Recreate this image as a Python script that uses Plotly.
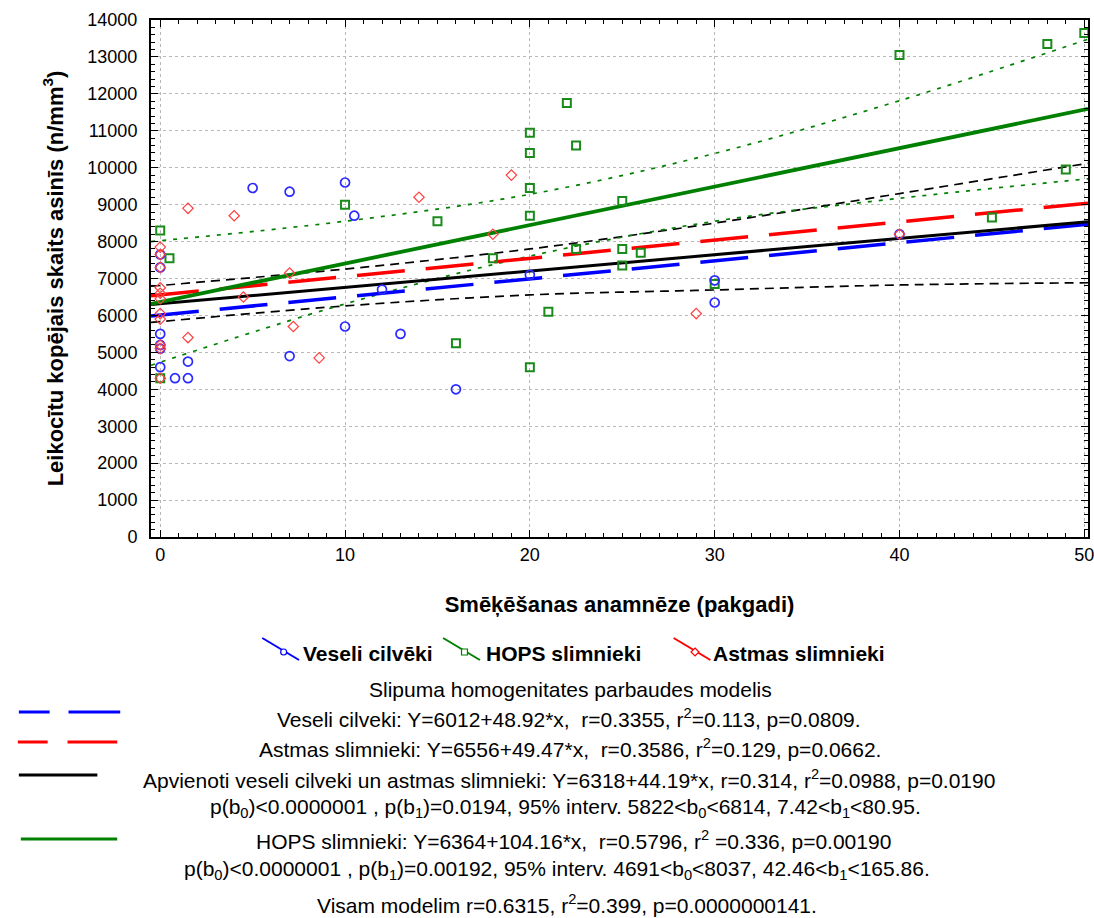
import plotly.graph_objects as go

# ---------------- data ----------------
healthy_x = [0, 0, 0, 0, 0, 0, 0.8, 1.5, 1.5, 5, 7, 7, 10, 10.5, 10, 12, 13, 16, 20, 30, 30, 40]
healthy_y = [7650, 7300, 5500, 5200, 5100, 4600, 4300, 4300, 4750, 9450, 9350, 4900, 9600, 8700, 5700, 6700, 5500, 4000, 7100, 6950, 6350, 8200]

asthma_x = [0, 0, 0, 0, 0, 0, 0, 0, 0, 0, 0, 1.5, 1.5, 4, 4.5, 7, 7.2, 8.6, 14, 18, 19, 29, 40]
asthma_y = [7850, 7650, 7300, 6750, 6600, 6450, 6050, 5900, 5200, 5100, 4300, 8900, 5400, 8700, 6500, 7150, 5700, 4850, 9200, 8200, 9800, 6050, 8200]

copd_x = [0, 0.5, 0, 10, 15, 16, 18, 20, 20, 20, 20, 20, 21, 22, 22.5, 22.5, 25, 25, 25, 26, 30, 40, 45, 48, 49, 50]
copd_y = [8300, 7550, 4300, 9000, 8550, 5250, 7550, 10950, 10400, 9450, 8700, 4600, 6100, 11750, 10600, 7800, 9100, 7800, 7350, 7700, 6850, 13050, 8650, 13350, 9950, 13650]

# regression models (intercept, slope) as printed on the chart
fit_names = ["Veseli", "Astmas", "Apvienoti", "HOPS"]
fit_b0 = [6012, 6556, 6318, 6364]
fit_b1 = [48.92, 49.47, 44.19, 104.16]

# 95% confidence bands
band_x = [-0.5, 10, 20, 30, 40, 50.2]
comb_upper = [6790, 7256, 7800, 8500, 9300, 10120]
comb_lower = [5810, 6258, 6555, 6690, 6825, 6885]
copd_upper = [8000, 8551, 9280, 10386, 11815, 13480]
copd_lower = [4650, 6312, 7607, 8551, 9172, 9700]

x_range = [-0.5, 50.2]
y_range = [0, 14000]

# ---------------- layout helpers ----------------
FW, FH = 1094, 918
L, T, R, B = 151, 20, 1094, 537
W, H = R - L, B - T


def px(x):
    return (x - L) / W


def py(y):
    return (B - y) / H


BLUE, RED, GREEN, BLACK = "#0000ff", "#ff0000", "#008000", "#000000"
FONT = "Liberation Sans, Arial, sans-serif"

fig = go.Figure()

# confidence bands
for ys, col, dash in [(comb_upper, BLACK, "9px,6px"), (comb_lower, BLACK, "9px,6px"),
                      (copd_upper, GREEN, "4px,7px"), (copd_lower, GREEN, "4px,7px")]:
    fig.add_trace(go.Scatter(x=band_x, y=ys, mode="lines", line=dict(color=col, width=1.7, dash=dash, shape="spline"),
                             showlegend=False, hoverinfo="skip"))

# regression lines
line_styles = [(BLUE, "48px,21px", 3.5), (RED, "48px,21px", 3.5), (BLACK, "solid", 3), (GREEN, "solid", 3.8)]
for b0, b1, (col, dash, w) in zip(fit_b0, fit_b1, line_styles):
    fig.add_trace(go.Scatter(x=x_range, y=[b0 + b1 * xv for xv in x_range], mode="lines",
                             line=dict(color=col, width=w, dash=dash), showlegend=False, hoverinfo="skip"))

# scatter points
fig.add_trace(go.Scatter(x=copd_x, y=copd_y, mode="markers", name="HOPS slimnieki",
                         marker=dict(symbol="square-open", size=8, color="#1a8a1a", line=dict(width=2, color="#1a8a1a")),
                         showlegend=False))
fig.add_trace(go.Scatter(x=healthy_x, y=healthy_y, mode="markers", name="Veseli cilvēki",
                         marker=dict(symbol="circle-open", size=9, color="#2a2aff", line=dict(width=1.7, color="#2a2aff")),
                         showlegend=False))
fig.add_trace(go.Scatter(x=asthma_x, y=asthma_y, mode="markers", name="Astmas slimnieki",
                         marker=dict(symbol="diamond-open", size=8, color="#ff4040", line=dict(width=1.2, color="#ff4040")),
                         showlegend=False))

axis_common = dict(showline=True, linecolor="black", linewidth=2, mirror="ticks", ticks="inside", ticklen=7,
                   tickcolor="black", tickwidth=1, showgrid=True, gridcolor="#b8b8b8", griddash="dot", gridwidth=1,
                   zeroline=False, tickfont=dict(family=FONT, size=18, color="black"))

fig.update_xaxes(range=x_range, dtick=10, tick0=0, ticklabeloverflow="allow",
                 minor=dict(dtick=1, ticks="inside", ticklen=4, tickcolor="black", showgrid=False),
                 title=dict(text="<b>Smēķēšanas anamnēze (pakgadi)</b>", font=dict(family=FONT, size=22, color="black"),
                            standoff=33),
                 **axis_common)
fig.update_yaxes(range=y_range, dtick=1000, tick0=0, tickformat="d", ticklabelstandoff=8,
                 minor=dict(dtick=200, ticks="inside", ticklen=4, tickcolor="black", showgrid=False),
                 title=dict(text="<b>Leikocītu kopējais skaits asinīs (n/mm<sup>3</sup>)</b>",
                            font=dict(family=FONT, size=22, color="black"), standoff=18),
                 **axis_common)

shapes = []
annotations = []

# legend row (icons + bold labels)
legend_items = [("Veseli cilvēki", BLUE, "circle", 263, 300, 302),
                ("HOPS slimnieki", GREEN, "square", 445, 482, 486),
                ("Astmas slimnieki", RED, "diamond", 677, 714, 715)]
for label, col, sym, x0, x1, tx in legend_items:
    shapes.append(dict(type="line", xref="paper", yref="paper", x0=px(x0), y0=py(638), x1=px(x1), y1=py(660),
                       line=dict(color=col, width=2)))
    cx, cy = (x0 + x1) / 2 + 3, 652
    if sym == "circle":
        shapes.append(dict(type="circle", xref="paper", yref="paper", x0=px(cx - 3), x1=px(cx + 3),
                           y0=py(cy + 3), y1=py(cy - 3), line=dict(color=col, width=1.2), fillcolor="white"))
    elif sym == "square":
        shapes.append(dict(type="rect", xref="paper", yref="paper", x0=px(cx - 3), x1=px(cx + 3),
                           y0=py(cy + 3), y1=py(cy - 3), line=dict(color=col, width=1.2), fillcolor="white"))
    else:
        shapes.append(dict(type="path", xref="paper", yref="paper",
                           path=f"M {px(cx)},{py(cy-4)} L {px(cx+4)},{py(cy)} L {px(cx)},{py(cy+4)} L {px(cx-4)},{py(cy)} Z",
                           line=dict(color=col, width=1.2), fillcolor="white"))
    annotations.append(dict(text=f"<b>{label}</b>", xref="paper", yref="paper", x=px(tx), y=py(653),
                            xanchor="left", yanchor="middle", showarrow=False,
                            font=dict(family=FONT, size=21, color="black")))

# left key lines
key_lines = [(BLUE, 712, [(18, 49), (68, 120)]), (RED, 742, [(17, 47), (67, 117)]),
             (BLACK, 775, [(18, 97)]), (GREEN, 839, [(20, 117)])]
for col, yy, segs in key_lines:
    for a, b in segs:
        shapes.append(dict(type="line", xref="paper", yref="paper", x0=px(a), x1=px(b), y0=py(yy), y1=py(yy),
                           line=dict(color=col, width=3)))

# statistics text block
text_lines = [
    ("Slipuma homogenitates parbaudes modelis", 573, 689),
    ("Veseli cilveki: Y=6012+48.92*x,  r=0.3355, r<sup>2</sup>=0.113, p=0.0809.", 572, 718),
    ("Astmas slimnieki: Y=6556+49.47*x,  r=0.3586, r<sup>2</sup>=0.129, p=0.0662.", 573, 748),
    ("Apvienoti veseli cilveki un astmas slimnieki: Y=6318+44.19*x, r=0.314, r<sup>2</sup>=0.0988, p=0.0190", 572, 779),
    ("p(b<sub>0</sub>)<0.0000001 , p(b<sub>1</sub>)=0.0194, 95% interv. 5822<b<sub>0</sub><6814, 7.42<b<sub>1</sub><80.95.", 568, 808),
    ("HOPS slimnieki: Y=6364+104.16*x,  r=0.5796, r<sup>2</sup> =0.336, p=0.00190", 576, 840),
    ("p(b<sub>0</sub>)<0.0000001 , p(b<sub>1</sub>)=0.00192, 95% interv. 4691<b<sub>0</sub><8037, 42.46<b<sub>1</sub><165.86.", 560, 870),
    ("Visam modelim r=0.6315, r<sup>2</sup>=0.399, p=0.0000000141.", 570, 904),
]
for txt, cx, cy in text_lines:
    annotations.append(dict(text=txt, xref="paper", yref="paper", x=px(cx), y=py(cy), xanchor="center",
                            yanchor="middle", showarrow=False, font=dict(family=FONT, size=21, color="black")))

fig.update_layout(width=FW, height=FH, autosize=False,
                  margin=dict(l=L, r=FW - R, t=T, b=FH - B, pad=0),
                  paper_bgcolor="white", plot_bgcolor="white",
                  shapes=shapes, annotations=annotations, showlegend=False)

fig.write_html("out.html")
